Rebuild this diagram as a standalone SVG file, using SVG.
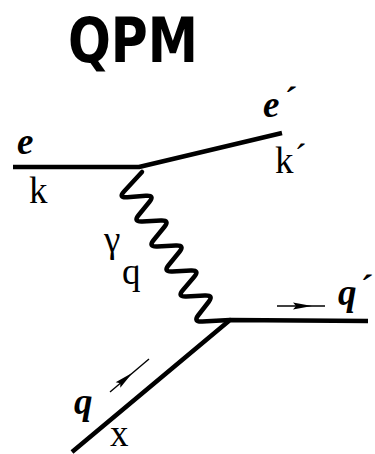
<svg xmlns="http://www.w3.org/2000/svg" width="375" height="454" viewBox="0 0 375 454">
<style>
.ln{fill:none;stroke:#000;stroke-width:4.5;stroke-linecap:butt;stroke-linejoin:round}
.ph{fill:none;stroke:#000;stroke-width:4.5;stroke-linecap:round;stroke-linejoin:round}
.ar{fill:none;stroke:#000;stroke-width:1.4}
.lb{font-family:'Liberation Serif','Times New Roman',Times,serif;font-size:37px;fill:#000}
.bi{font-weight:bold;font-style:italic}
.ttl{font-family:'DejaVu Sans',sans-serif;font-weight:bold;font-size:63px;fill:#000}
</style>
<defs>
<path id="ah" d="M0,0 L-19,-3.6 L-16,0 L-19,3.6 Z" fill="#000"/>
</defs>
<g id="title"><text class="ttl" x="68" y="62" textLength="130" lengthAdjust="spacingAndGlyphs">QPM</text></g>
<g id="connectors">
<path id="electron" class="ln" d="M13,167 L139,167 L282,133"/>
<path id="quark" class="ln" d="M72,452 L230,320 L368,321"/>
<path id="photon" class="ph" d="M142,172 L124,191.5 Q118,198 127.25,197.25 L145.75,195.75 Q155,195 149.5,201.75 L138.5,215.25 Q133,222 142.25,221.5 L160.75,220.5 Q170,220 164.5,226.75 L153.5,240.25 Q148,247 157.25,246.5 L175.75,245.5 Q185,245 179.5,251.75 L168.5,265.25 Q163,272 172.25,271.5 L190.75,270.5 Q200,270 194.25,276.75 L182.75,290.25 Q177,297 186.25,296.5 L204.75,295.5 Q214,295 208.75,301.75 L198.25,315.25 Q193,322 202.25,321.5 L230,320"/>
<g id="arrow-qprime"><line class="ar" x1="277" y1="306" x2="325" y2="306"/><use href="#ah" transform="translate(312,306)"/></g>
<g id="arrow-q"><line class="ar" x1="110" y1="392" x2="149" y2="359"/><use href="#ah" transform="translate(132.5,372.8) rotate(-40.2)"/></g>
</g>
<g id="labels" font-family="Liberation Serif, serif">
<g id="e"><text class="lb bi" x="17" y="154">e</text></g>
<g id="k"><text class="lb" x="29" y="203">k</text></g>
<g id="eprime"><text class="lb bi" x="263" y="117">e<tspan dx="3" dy="-4">´</tspan></text></g>
<g id="kprime"><text class="lb" x="275" y="173">k<tspan dx="1" dy="-3">´</tspan></text></g>
<g id="gamma"><text class="lb" x="104" y="252">γ</text></g>
<g id="qphoton"><text class="lb" x="122" y="284">q</text></g>
<g id="qprime"><text class="lb bi" x="338" y="305">q<tspan dx="2" dy="-4">´</tspan></text></g>
<g id="qin"><text class="lb bi" x="74" y="414">q</text></g>
<g id="x"><text class="lb" x="110" y="446" font-size="35">x</text></g>
</g>
</svg>
